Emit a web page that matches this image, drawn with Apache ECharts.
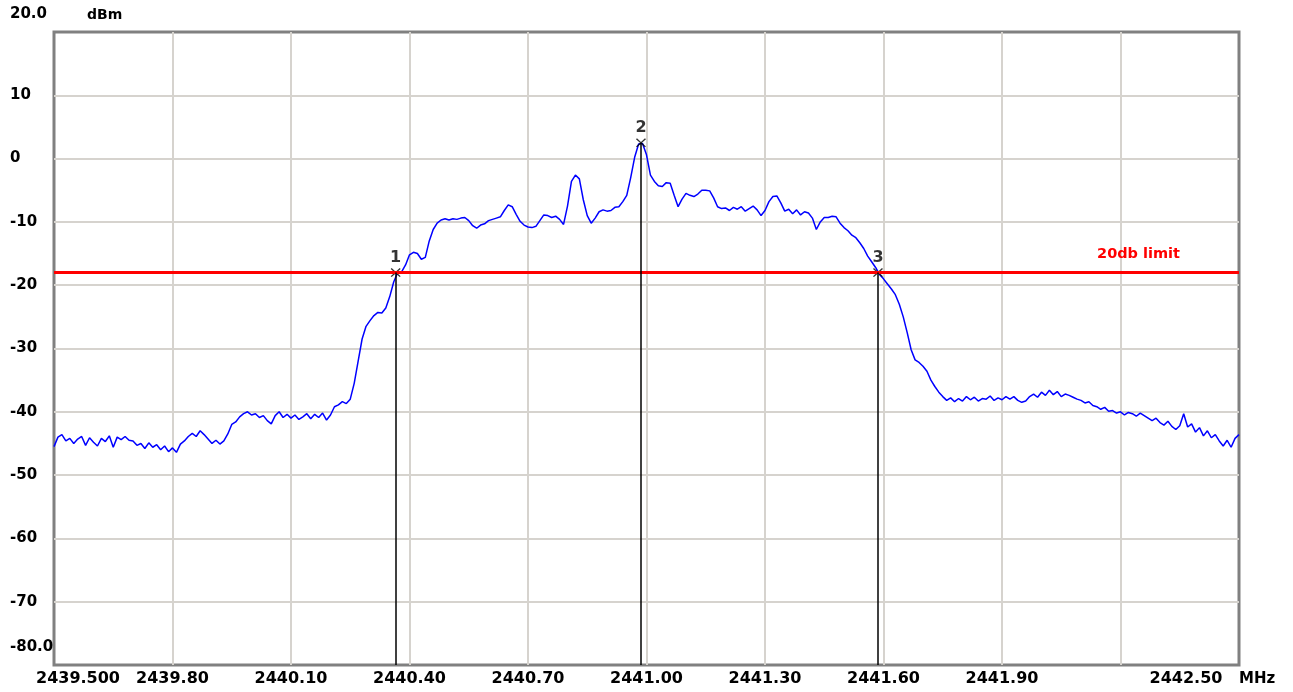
<!DOCTYPE html>
<html>
<head>
<meta charset="utf-8">
<title>Spectrum trace</title>
<script src="https://cdn.jsdelivr.net/npm/echarts@6/dist/echarts.min.js"></script>
<style>
  html, body { margin: 0; padding: 0; background: #fff; }
  #chart { width: 1293px; height: 692px; }
</style>
</head>
<body>
<div id="chart"></div>
<script>
// trace: one reading every 0.01 MHz starting at 2439.500 MHz
var startMHz = 2439.5;
var stepMHz = 0.01;
var traceDbm = [
  -45.5, -44.0, -43.6, -44.6, -44.2, -45.0, -44.3, -43.9, -45.3, -44.1,
  -44.8, -45.4, -44.2, -44.7, -43.8, -45.6, -44.0, -44.4, -43.9, -44.5,
  -44.6, -45.3, -45.0, -45.8, -44.9, -45.6, -45.2, -46.0, -45.4, -46.3,
  -45.7, -46.4, -45.1, -44.6, -43.9, -43.4, -43.9, -43.0, -43.6, -44.3,
  -45.0, -44.5, -45.1, -44.6, -43.5, -42.0, -41.6, -40.8, -40.3, -40.0,
  -40.5, -40.3, -40.9, -40.6, -41.4, -41.9, -40.6, -40.0, -40.9, -40.4,
  -41.0, -40.5, -41.2, -40.8, -40.3, -41.1, -40.4, -40.9, -40.2, -41.3,
  -40.5, -39.2, -38.9, -38.4, -38.7, -38.0, -35.5, -32.0, -28.5, -26.5,
  -25.6, -24.8, -24.3, -24.4, -23.6, -21.8, -19.5, -18.0, -17.9, -16.8,
  -15.2, -14.8, -15.0, -15.9, -15.6, -13.0, -11.2, -10.2, -9.7, -9.5,
  -9.7, -9.5, -9.6, -9.4, -9.3, -9.8, -10.6, -11.0, -10.5, -10.3,
  -9.8, -9.6, -9.4, -9.2, -8.2, -7.3, -7.6, -8.8, -9.9, -10.5,
  -10.8, -10.9, -10.7, -9.8, -8.9, -9.0, -9.3, -9.1, -9.6, -10.4,
  -7.5, -3.6, -2.6, -3.2, -6.5, -9.0, -10.2, -9.4, -8.4, -8.1,
  -8.3, -8.2, -7.7, -7.6, -6.8, -5.8, -3.0, 0.2, 2.3, 2.4,
  0.6, -2.6, -3.6, -4.3, -4.4, -3.8, -3.9, -5.8, -7.6, -6.4,
  -5.5, -5.8, -6.0, -5.6, -5.0, -5.0, -5.1, -6.2, -7.6, -7.9,
  -7.8, -8.2, -7.7, -8.0, -7.6, -8.3, -7.9, -7.5, -8.1, -9.0,
  -8.2, -6.8, -6.0, -5.9, -7.0, -8.3, -8.0, -8.7, -8.1, -8.9,
  -8.4, -8.6, -9.4, -11.2, -10.0, -9.3, -9.3, -9.1, -9.2, -10.2,
  -10.9, -11.4, -12.1, -12.5, -13.3, -14.2, -15.4, -16.3, -17.2, -18.3,
  -19.0, -19.8, -20.6, -21.5, -23.0, -25.0, -27.5, -30.2, -31.8, -32.2,
  -32.8, -33.6, -35.0, -36.0, -36.9, -37.6, -38.2, -37.8, -38.4, -37.9,
  -38.3, -37.6, -38.1, -37.7, -38.3, -37.9, -38.0, -37.5, -38.2, -37.8,
  -38.1, -37.6, -38.0, -37.6, -38.2, -38.5, -38.3, -37.6, -37.2, -37.7,
  -36.9, -37.4, -36.6, -37.3, -36.8, -37.6, -37.2, -37.4, -37.7, -38.0,
  -38.2, -38.6, -38.4, -39.0, -39.2, -39.6, -39.3, -39.9, -39.8, -40.2,
  -40.0, -40.5, -40.1, -40.3, -40.7, -40.2, -40.6, -41.0, -41.4, -41.0,
  -41.7, -42.1, -41.5, -42.3, -42.8, -42.2, -40.3, -42.4, -41.9, -43.2,
  -42.5, -43.8, -43.0, -44.1, -43.6, -44.6, -45.4, -44.5, -45.6, -44.2,
  -43.6
];

var xTickLabels = ["2439.500", "2439.80", "2440.10", "2440.40", "2440.70", "2441.00",
                   "2441.30", "2441.60", "2441.90", "", "2442.50"];
var yTickLabels = ["-80.0", "-70", "-60", "-50", "-40", "-30", "-20", "-10", "0", "10", "20.0"];

var markerNames = ["1", "2", "3"];
var markerMHz = [2440.365, 2440.986, 2441.586];
var markerDbm = [-18.0, 2.5, -18.0];

var limitDbm = -18.0;
var limitText = "20db limit";

(function() {
  var myChart = echarts.init(document.getElementById("chart"));
  var font = "DejaVu Sans";

  // x axis works in MHz from the start frequency so ticks fall on 0.3 steps
  var traceData = traceDbm.map(function(v, i) {
    return [i * stepMHz, v];
  });
  var markerData = markerMHz.map(function(f, i) {
    return { name: markerNames[i], value: [f - startMHz, markerDbm[i]] };
  });
  var dropLines = markerMHz.map(function(f, i) {
    return [
      { coord: [f - startMHz, markerDbm[i]] },
      { coord: [f - startMHz, -80] }
    ];
  });

  var option = {
    animation: false,
    backgroundColor: "#fff",
    grid: {
      left: 54,
      right: 54,
      top: 32,
      bottom: 27,
      show: true,
      borderColor: "#808080",
      borderWidth: 3
    },
    xAxis: {
      type: "value",
      min: 0,
      max: 3,
      interval: 0.3,
      name: "MHz",
      nameLocation: "end",
      nameGap: 0,
      nameTextStyle: {
        color: "#000",
        fontFamily: font,
        fontWeight: "bold",
        fontSize: 15,
        align: "left",
        verticalAlign: "top",
        padding: [7, 0, 0, 0]
      },
      axisLine: { show: false, onZero: false },
      axisTick: { show: false },
      splitLine: {
        show: true,
        showMinLine: false,
        showMaxLine: false,
        lineStyle: { color: "#d6d3ce", width: 2 }
      },
      axisLabel: {
        margin: 6,
        color: "#000",
        fontFamily: font,
        fontWeight: "bold",
        fontSize: 16,
        formatter: function(v) {
          var k = Math.round(v / 0.3);
          if (k === 0) return "{first|" + xTickLabels[k] + "}";
          if (k === 10) return "{last|" + xTickLabels[k] + "}";
          return xTickLabels[k];
        },
        rich: {
          first: { fontFamily: font, fontWeight: "bold", fontSize: 16, color: "#000", padding: [0, 0, 0, 48] },
          last: { fontFamily: font, fontWeight: "bold", fontSize: 16, color: "#000", padding: [0, 106, 0, 0] }
        }
      }
    },
    yAxis: {
      type: "value",
      min: -80,
      max: 20,
      interval: 10,
      name: "dBm",
      nameLocation: "end",
      nameGap: 17,
      nameTextStyle: {
        color: "#000",
        fontFamily: font,
        fontWeight: "bold",
        fontSize: 14,
        align: "left",
        verticalAlign: "middle",
        padding: [0, 0, 0, 33]
      },
      axisLine: { show: false, onZero: false },
      axisTick: { show: false },
      splitLine: {
        show: true,
        showMinLine: false,
        showMaxLine: false,
        lineStyle: { color: "#d6d3ce", width: 2 }
      },
      axisLabel: {
        margin: 44,
        align: "left",
        color: "#000",
        fontFamily: font,
        fontWeight: "bold",
        fontSize: 15,
        formatter: function(v) {
          var k = Math.round((v + 80) / 10);
          if (k === 0 || k === 10) return "{end|" + yTickLabels[k] + "}";
          return yTickLabels[k];
        },
        rich: {
          end: { fontFamily: font, fontWeight: "bold", fontSize: 15, color: "#000", padding: [0, 0, 35, 0] }
        }
      }
    },
    series: [
      {
        type: "line",
        data: traceData,
        showSymbol: false,
        symbol: "none",
        lineStyle: { color: "#0000ff", width: 1.5 },
        z: 2,
        markLine: {
          silent: true,
          symbol: ["none", "none"],
          lineStyle: { color: "#ff0000", width: 3, type: "solid" },
          label: {
            show: true,
            position: "insideEndTop",
            formatter: limitText,
            color: "#ff0000",
            fontFamily: font,
            fontWeight: "bold",
            fontSize: 14.5,
            distance: 11,
            padding: [0, 48, 0, 0]
          },
          data: [{ yAxis: limitDbm }]
        }
      },
      {
        type: "scatter",
        data: markerData,
        symbol: "path://M0,1L1,0L5,4L9,0L10,1L6,5L10,9L9,10L5,6L1,10L0,9L4,5Z",
        symbolSize: [10, 9],
        itemStyle: { color: "#000" },
        z: 4,
        label: {
          show: true,
          position: "top",
          distance: 2,
          formatter: "{b}",
          color: "#000",
          fontFamily: font,
          fontWeight: "bold",
          fontSize: 16
        },
        markLine: {
          silent: true,
          symbol: ["none", "none"],
          label: { show: false },
          lineStyle: { color: "#000", width: 1.5, type: "solid" },
          data: dropLines
        }
      }
    ]
  };
  myChart.setOption(option);
  window.addEventListener("resize", function() {
    myChart.resize();
  });
})();
</script>
</body>
</html>
